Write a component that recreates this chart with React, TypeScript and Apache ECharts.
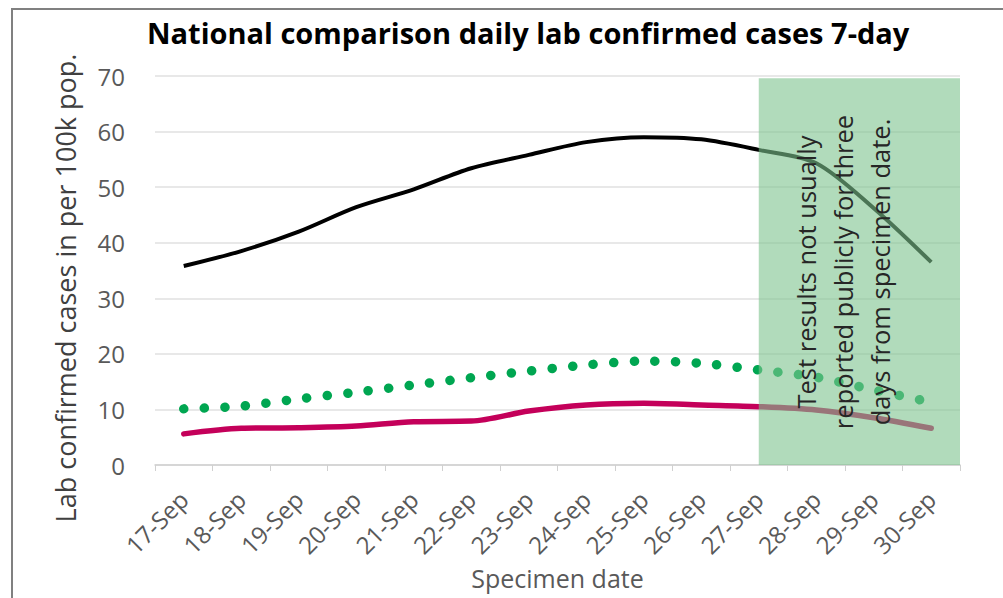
import React, { useEffect, useRef } from "react";
import * as echarts from "echarts";

const categories = [
  "17-Sep", "18-Sep", "19-Sep", "20-Sep", "21-Sep", "22-Sep", "23-Sep",
  "24-Sep", "25-Sep", "26-Sep", "27-Sep", "28-Sep", "29-Sep", "30-Sep",
];
const seriesBlack = [35.8, 38.5, 42.0, 46.4, 49.6, 53.4, 55.8, 58.1, 59.0, 58.6, 56.7, 54.3, 46.2, 36.5];
const seriesGreenDots = [10.1, 10.6, 11.9, 13.1, 14.4, 15.7, 16.9, 18.0, 18.7, 18.3, 17.1, 15.8, 13.5, 11.3];
const seriesPink = [5.6, 6.6, 6.7, 7.0, 7.8, 7.9, 9.7, 10.8, 11.1, 10.8, 10.5, 9.9, 8.5, 6.6];
const yTicks = { min: 0, max: 70, interval: 10 };
const shadeStart = "27-Sep";
const shadeTop = 69.6;
const noteLines = [
  "Test results not usually",
  "reported publicly for three",
  "days from specimen date.",
];

const FONT = "'Open Sans', 'Noto Sans', sans-serif";

export default function App() {
  const ref = useRef<HTMLDivElement>(null);
  useEffect(() => {
    if (!ref.current) return;
    const chart = echarts.init(ref.current, undefined, { renderer: "svg" });
    chart.setOption({
      animation: false,
      backgroundColor: "#ffffff",
      title: {
        text: "National comparison daily lab confirmed cases 7-day",
        left: 142,
        top: 13,
        textStyle: { fontFamily: FONT, fontWeight: "bold", fontSize: 29, color: "#000000" },
      },
      grid: { left: 155, right: 43, top: 76, bottom: 133, outerBoundsMode: "none", containLabel: false },
      xAxis: {
        type: "category",
        data: categories,
        boundaryGap: true,
        name: "Specimen date",
        nameLocation: "middle",
        nameGap: 100,
        nameTextStyle: { fontFamily: FONT, fontSize: 25, color: "#595959" },
        axisLine: { lineStyle: { color: "#d0d0d0", width: 1.5 } },
        axisTick: { show: true, length: 6, lineStyle: { color: "#d0d0d0" } },
        axisLabel: { rotate: 45, margin: 30, fontFamily: FONT, fontSize: 24, color: "#595959" },
        splitLine: { show: false },
      },
      yAxis: {
        type: "value",
        min: yTicks.min,
        max: yTicks.max,
        interval: yTicks.interval,
        name: "Lab confirmed cases in per 100k pop.",
        nameLocation: "middle",
        nameGap: 76,
        nameTextStyle: { fontFamily: FONT, fontSize: 27, color: "#404040", padding: [0, 35, 0, 0] },
        axisLine: { show: false },
        axisTick: { show: false },
        axisLabel: { margin: 30, fontFamily: FONT, fontSize: 24, color: "#595959" },
        splitLine: { lineStyle: { color: "#e0e0e0", width: 1.5 } },
      },
      series: [
        {
          name: "National",
          type: "line",
          data: seriesBlack,
          smooth: 0.3,
          symbol: "none",
          lineStyle: { color: "#000000", width: 4 },
          z: 3,
        },
        {
          name: "Comparison A",
          type: "line",
          data: seriesGreenDots,
          smooth: 0.3,
          symbol: "none",
          lineStyle: { color: "#00a651", width: 9.5, type: [0.1, 20.5], cap: "round" },
          z: 3,
        },
        {
          name: "Comparison B",
          type: "line",
          data: seriesPink,
          smooth: 0.3,
          symbol: "none",
          lineStyle: { color: "#c4005a", width: 5.5, cap: "round" },
          z: 3,
          markArea: {
            silent: true,
            z: 10,
            itemStyle: { color: "rgba(125, 195, 142, 0.6)" },
            data: [[{ xAxis: shadeStart, yAxis: shadeTop }, { yAxis: 0 }]],
          },
        },
      ],
      graphic: [
        {
          type: "rect",
          shape: { x: 12, y: 9, width: 1100, height: 700 },
          style: { fill: "none", stroke: "#808080", lineWidth: 2 },
          z: 0,
          silent: true,
        },
        {
          type: "text",
          x: 843,
          y: 272,
          rotation: Math.PI / 2,
          z: 100,
          style: {
            text: noteLines.join("\n"),
            fontFamily: FONT,
            fontSize: 25.5,
            lineHeight: 37,
            fill: "#262626",
            align: "center",
            verticalAlign: "middle",
          },
        },
      ],
    });
    return () => chart.dispose();
  }, []);
  return <div ref={ref} style={{ position: "fixed", left: 0, top: 0, width: 1003, height: 598 }} />;
}
